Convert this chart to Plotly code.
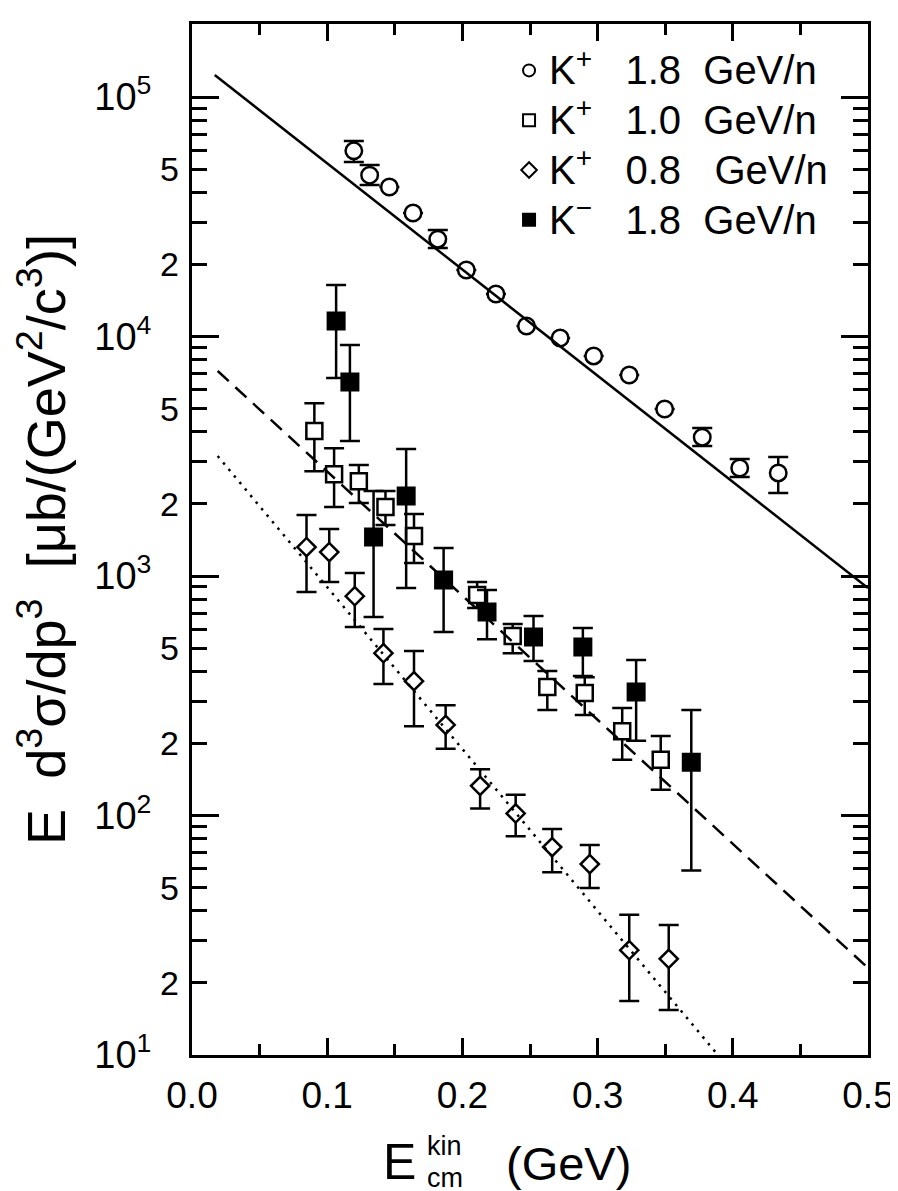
import plotly.graph_objects as go

FONT = "Liberation Sans, Arial, Helvetica, sans-serif"

# ---- data ----
# K+ 1.8 GeV/n (open circles)
kp18_x = [0.1197, 0.1314, 0.146, 0.1635, 0.1818, 0.2029, 0.2248, 0.2474, 0.2723, 0.2971, 0.3234, 0.3496, 0.3774, 0.4051, 0.4336]
kp18_y = [59600, 47200, 42100, 32800, 25500, 18950, 15050, 11060, 9860, 8300, 6910, 4980, 3800, 2825, 2695]
kp18_hi = [65500, 52000, None, None, 27850, None, None, None, None, None, None, None, 4150, 3080, 3140]
kp18_lo = [53500, 42950, None, None, 23450, None, None, None, None, None, None, None, 3490, 2590, 2220]

# K+ 1.0 GeV/n (open squares)
kp10_x = [0.0905, 0.1051, 0.1234, 0.1431, 0.1642, 0.2109, 0.2372, 0.2628, 0.2905, 0.3182, 0.3467]
kp10_y = [4030, 2660, 2490, 1940, 1469, 834, 562, 344, 325, 225, 171]
kp10_hi = [5270, 3420, 2905, 2265, 1817, 945, 631, 401, 378, 281, 215]
kp10_lo = [2740, 1940, 2017, 1633, 1133, 735, 476, 276, 263, 171, 128]

# K+ 0.8 GeV/n (open diamonds)
kp08_x = [0.0847, 0.1015, 0.1204, 0.1416, 0.1642, 0.1876, 0.2131, 0.2394, 0.2664, 0.2942, 0.3234, 0.3526]
kp08_y = [1321, 1259, 824, 476, 364, 239, 133, 102, 73.8, 62.7, 27.4, 25.2]
kp08_hi = [1798, 1571, 1030, 601, 486, 289, 156, 122, 87.9, 75.3, 38.5, 34.9]
kp08_lo = [857, 944, 612, 354, 236, 190, 107, 82, 58, 49.8, 16.8, 15.4]

# K- 1.8 GeV/n (filled squares)
km18_x = [0.1066, 0.1168, 0.1343, 0.1584, 0.1861, 0.2182, 0.2526, 0.2891, 0.3285, 0.3693]
km18_y = [11620, 6460, 1455, 2160, 962, 707, 556, 505, 328, 167]
km18_hi = [16400, 9220, 2265, 3390, 1309, 875, 681, 607, 446, 276]
km18_lo = [6710, 3660, 674, 891, 584, 545, 442, 382, 205, 59]

# exponential fits (end points)
fit_solid_x = [0.0168, 0.5]
fit_solid_y = [123600, 891]
fit_dash_x = [0.019, 0.4985]
fit_dash_y = [7180, 23.5]
fit_dot_x = [0.019, 0.389]
fit_dot_y = [3170, 10]

NB = "\u00a0"
legend_names = [
    "K<sup>+</sup>" + NB * 3 + "1.8" + NB * 2 + "GeV/n",
    "K<sup>+</sup>" + NB * 3 + "1.0" + NB * 2 + "GeV/n",
    "K<sup>+</sup>" + NB * 3 + "0.8" + NB * 3 + "GeV/n",
    "K<sup>\u2212</sup>" + NB * 3 + "1.8" + NB * 2 + "GeV/n",
]

x_ticks = [0.0, 0.1, 0.2, 0.3, 0.4, 0.5]
decades = [10, 100, 1000, 10000, 100000]
decade_text = ["10<sup>1</sup>", "10<sup>2</sup>", "10<sup>3</sup>", "10<sup>4</sup>", "10<sup>5</sup>"]
mid_vals = [20, 50, 200, 500, 2000, 5000, 20000, 50000]
mid_text = ["2", "5", "2", "5", "2", "5", "2", "5"]
minor_vals = [m * d for d in [10, 100, 1000, 10000] for m in range(2, 10)]


def err_dict(y, hi, lo):
    plus = [None if h is None else h - v for v, h in zip(y, hi)]
    minus = [None if l is None else v - l for v, l in zip(y, lo)]
    return dict(type="data", symmetric=False, array=plus, arrayminus=minus,
                color="black", thickness=2.5, width=10)


fig = go.Figure()

series = [
    (kp18_x, kp18_y, kp18_hi, kp18_lo, "circle", 16.5, "white"),
    (kp10_x, kp10_y, kp10_hi, kp10_lo, "square", 16, "white"),
    (kp08_x, kp08_y, kp08_hi, kp08_lo, "diamond", 14, "white"),
    (km18_x, km18_y, km18_hi, km18_lo, "square", 16.5, "black"),
]
for (xs, ys, hi, lo, sym, size, fill), name in zip(series, legend_names):
    fig.add_trace(go.Scatter(
        x=xs, y=ys, mode="markers",
        name="<span style='font-size:40px'>" + name + "</span>",
        marker=dict(symbol=sym, size=size, color=fill, line=dict(color="black", width=2.5)),
        error_y=err_dict(ys, hi, lo),
    ))

for xs, ys, dash in [(fit_solid_x, fit_solid_y, "solid"),
                     (fit_dash_x, fit_dash_y, "15px,9px"),
                     (fit_dot_x, fit_dot_y, "2.5px,6px")]:
    fig.add_trace(go.Scatter(x=xs, y=ys, mode="lines", showlegend=False, yaxis="y2",
                             line=dict(color="black", width=2.5, dash=dash)))

yrange = [1, 5.305]

fig.update_layout(
    width=898, height=1191,
    margin=dict(l=184, r=29, t=16, b=144),
    paper_bgcolor="white", plot_bgcolor="white",
    font=dict(family=FONT, color="black"),
    showlegend=True,
    legend=dict(x=0.469, y=0.984, xanchor="left", yanchor="top",
                font=dict(family=FONT, size=36, color="black"),
                bgcolor="rgba(0,0,0,0)", itemsizing="constant", tracegroupgap=0),
    xaxis=dict(range=[0, 0.5], tickmode="array", tickvals=x_ticks, tickformat=".1f",
               ticks="inside", ticklen=17, tickwidth=2.5, tickcolor="black",
               minor=dict(dtick=0.05, tick0=0, ticks="inside", ticklen=11, tickwidth=2.5, tickcolor="black"),
               showline=True, linewidth=3, linecolor="black", mirror="ticks",
               showgrid=False, zeroline=False, ticklabeloverflow="allow",
               tickfont=dict(family=FONT, size=37), ticklabelstandoff=6),
    yaxis=dict(type="log", range=yrange, tickmode="array", tickvals=decades, ticktext=decade_text,
               ticks="inside", ticklen=27, tickwidth=2.5, tickcolor="black",
               minor=dict(tickmode="array", tickvals=minor_vals, ticks="inside", ticklen=15,
                          tickwidth=2.5, tickcolor="black"),
               showline=True, linewidth=3, linecolor="black", mirror="ticks",
               showgrid=False, zeroline=False,
               tickfont=dict(family=FONT, size=38), ticklabelstandoff=30,
               title=dict(text=NB + "E" + NB * 2 + "d<sup>3</sup>\u03c3/dp<sup>3</sup>" + NB * 2 +
                               "[\u03bcb/(GeV<sup>2</sup>/c<sup>3</sup>)]",
                          font=dict(family=FONT, size=54), standoff=34)),
    yaxis2=dict(type="log", range=yrange, overlaying="y", side="left", anchor="x",
                tickmode="array", tickvals=mid_vals, ticktext=mid_text, ticks="",
                showline=False, showgrid=False, zeroline=False,
                tickfont=dict(family=FONT, size=34), ticklabelstandoff=12),
)

# x-axis title: E with stacked kin / cm, then (GeV)
fig.add_annotation(text="E", xref="paper", yref="paper", x=0.334, y=-0.1035,
                   xanchor="right", yanchor="middle", showarrow=False,
                   font=dict(family=FONT, size=50, color="black"))
fig.add_annotation(text="kin", xref="paper", yref="paper", x=0.346, y=-0.1035,
                   xanchor="left", yanchor="bottom", showarrow=False, borderpad=0,
                   font=dict(family=FONT, size=27, color="black"))
fig.add_annotation(text="cm", xref="paper", yref="paper", x=0.346, y=-0.1035,
                   xanchor="left", yanchor="top", showarrow=False, borderpad=0,
                   font=dict(family=FONT, size=27, color="black"))
fig.add_annotation(text="(GeV)", xref="paper", yref="paper", x=0.461, y=-0.1055,
                   xanchor="left", yanchor="middle", showarrow=False,
                   font=dict(family=FONT, size=47, color="black"))

fig.write_html("out.html")
